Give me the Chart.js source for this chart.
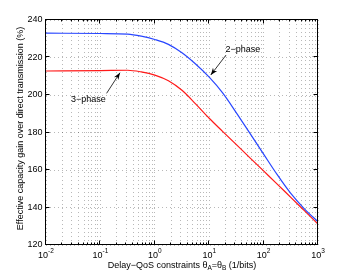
<!DOCTYPE html>
<html>
<head>
<meta charset="utf-8">
<script src="https://cdn.jsdelivr.net/npm/chart.js@4/dist/chart.umd.min.js"></script>
<style>
  html, body { margin: 0; padding: 0; background: #ffffff; }
  #wrap { width: 351px; height: 277px; }
</style>
</head>
<body>
<div id="wrap"><canvas id="grafico" width="351" height="277"></canvas></div>
<script>
// valores (eje x logaritmico)
const theta = [0.01, 0.1, 0.316, 0.562, 1, 1.78, 3.16, 5.62, 10, 17.8, 31.6, 56.2, 100, 178, 316, 562, 1000];
const gain2phase = [233.0, 232.8, 232.5, 231.4, 229.6, 227.0, 222.5, 216.5, 209.5, 201.0, 190.5, 179.5, 168.5, 157.5, 147.5, 139.3, 132.4];
const gain3phase = [212.8, 213.0, 213.2, 212.3, 210.6, 207.6, 202.5, 195.3, 187.6, 180.5, 173.5, 166.5, 159.5, 152.5, 145.4, 138.3, 131.2];

const xDecadas = [0.01, 0.1, 1, 10, 100, 1000];
const xExponentes = ["-2", "-1", "0", "1", "2", "3"];
const xMantisas = [2, 3, 4, 5, 6, 7, 8, 9];
const yTicks = [120, 140, 160, 180, 200, 220, 240];

const anotaciones = [
  { texto: "2\u2212phase", tx: 41.7, ty: 224.0, desdeX: 20.4, desdeY: 221.3, haciaX: 10.7, haciaY: 210.7 },
  { texto: "3\u2212phase", tx: 0.060, ty: 197.7, desdeX: 0.13, desdeY: 200.9, haciaX: 0.229, haciaY: 211.9 }
];

const FUENTE = '"Liberation Sans", Arial, Helvetica, sans-serif';

// todas las lineas de grilla (decadas + menores)
const xGrilla = [];
xDecadas.forEach((d, i) => {
  xGrilla.push(d);
  if (i < xDecadas.length - 1) xMantisas.forEach(m => xGrilla.push(+(d * m).toPrecision(3)));
});

function flecha(ctx, x1, y1, x2, y2) {
  ctx.strokeStyle = "#000";
  ctx.fillStyle = "#000";
  ctx.lineWidth = 0.8;
  ctx.beginPath();
  ctx.moveTo(x1, y1);
  ctx.lineTo(x2, y2);
  ctx.stroke();
  const ang = Math.atan2(y2 - y1, x2 - x1);
  const largo = 7, ancho = 2.6;
  ctx.beginPath();
  ctx.moveTo(x2, y2);
  ctx.lineTo(x2 - largo * Math.cos(ang) + ancho * Math.sin(ang), y2 - largo * Math.sin(ang) - ancho * Math.cos(ang));
  ctx.lineTo(x2 - largo * 0.7 * Math.cos(ang), y2 - largo * 0.7 * Math.sin(ang));
  ctx.lineTo(x2 - largo * Math.cos(ang) - ancho * Math.sin(ang), y2 - largo * Math.sin(ang) + ancho * Math.cos(ang));
  ctx.closePath();
  ctx.fill();
}

const ejesMatlab = {
  id: "ejesMatlab",
  afterDraw(chart) {
    const ctx = chart.ctx;
    const { left, right, top, bottom } = chart.chartArea;
    const sx = chart.scales.x;
    const sy = chart.scales.y;
    const L = Math.round(left) - 0.5, R = Math.round(right) - 0.5;
    const T = Math.round(top) - 0.5, B = Math.round(bottom) - 0.5;

    ctx.save();
    ctx.strokeStyle = "#000";
    ctx.lineWidth = 1;
    ctx.strokeRect(L, T, R - L, B - T);

    // marcas de los ejes hacia adentro
    ctx.beginPath();
    xGrilla.forEach(v => {
      const px = Math.round(sx.getPixelForValue(v)) - 0.5;
      const len = xDecadas.includes(v) ? 4 : 2;
      ctx.moveTo(px, B); ctx.lineTo(px, B - len);
      ctx.moveTo(px, T); ctx.lineTo(px, T + len);
    });
    yTicks.forEach(v => {
      const py = Math.round(sy.getPixelForValue(v)) - 0.5;
      ctx.moveTo(L, py); ctx.lineTo(L + 4, py);
      ctx.moveTo(R, py); ctx.lineTo(R - 4, py);
    });
    ctx.stroke();

    ctx.fillStyle = "#000";
    ctx.font = "9px " + FUENTE;
    ctx.textAlign = "right";
    ctx.textBaseline = "middle";
    yTicks.forEach(v => ctx.fillText(String(v), left - 3.5, sy.getPixelForValue(v)));

    // etiquetas 10^n
    ctx.textBaseline = "alphabetic";
    ctx.textAlign = "left";
    xDecadas.forEach((v, i) => {
      ctx.font = "9px " + FUENTE;
      const wBase = ctx.measureText("10").width;
      ctx.font = "6.5px " + FUENTE;
      const wExp = ctx.measureText(xExponentes[i]).width;
      const x0 = sx.getPixelForValue(v) - (wBase + wExp) / 2;
      ctx.font = "9px " + FUENTE;
      ctx.fillText("10", x0, 257.5);
      ctx.font = "6.5px " + FUENTE;
      ctx.fillText(xExponentes[i], x0 + wBase, 253);
    });

    // titulo eje x con subindices
    const partes = [
      { t: "Delay\u2212QoS constraints \u03b8", sub: false },
      { t: "A", sub: true },
      { t: "=\u03b8", sub: false },
      { t: "B", sub: true },
      { t: " (1/bits)", sub: false }
    ];
    let total = 0;
    partes.forEach(p => {
      ctx.font = (p.sub ? "6.5px " : "9px ") + FUENTE;
      p.w = ctx.measureText(p.t).width;
      total += p.w;
    });
    let cx = (left + right) / 2 - total / 2;
    partes.forEach(p => {
      ctx.font = (p.sub ? "6.5px " : "9px ") + FUENTE;
      ctx.fillText(p.t, cx, p.sub ? 269.5 : 267.5);
      cx += p.w;
    });

    // titulo eje y
    ctx.save();
    ctx.translate(22.5, (top + bottom) / 2 - 4);
    ctx.rotate(-Math.PI / 2);
    ctx.font = "9px " + FUENTE;
    ctx.textAlign = "center";
    ctx.fillText("Effective capacity gain over direct transmission (%)", 0, 0);
    ctx.restore();

    // anotaciones con flecha
    ctx.font = "9px " + FUENTE;
    ctx.textAlign = "center";
    ctx.textBaseline = "middle";
    anotaciones.forEach(a => {
      ctx.fillText(a.texto, sx.getPixelForValue(a.tx), sy.getPixelForValue(a.ty));
      flecha(ctx,
        sx.getPixelForValue(a.desdeX), sy.getPixelForValue(a.desdeY),
        sx.getPixelForValue(a.haciaX), sy.getPixelForValue(a.haciaY));
    });
    ctx.restore();
  }
};

const grillaPunteada = {
  color: "rgba(0,0,0,0.28)",
  lineWidth: 1,
  drawTicks: false
};

new Chart(document.getElementById("grafico"), {
  type: "line",
  data: {
    datasets: [
      {
        label: "2-phase",
        data: theta.map((t, i) => ({ x: t, y: gain2phase[i] })),
        borderColor: "rgb(40,70,255)",
        borderWidth: 1.2,
        pointRadius: 0,
        cubicInterpolationMode: "monotone",
        fill: false
      },
      {
        label: "3-phase",
        data: theta.map((t, i) => ({ x: t, y: gain3phase[i] })),
        borderColor: "rgb(255,25,25)",
        borderWidth: 1.2,
        pointRadius: 0,
        cubicInterpolationMode: "monotone",
        fill: false
      }
    ]
  },
  options: {
    responsive: false,
    animation: false,
    layout: { padding: { left: 46, right: 33, top: 20, bottom: 32 } },
    plugins: { legend: { display: false }, tooltip: { enabled: false } },
    scales: {
      x: {
        type: "logarithmic",
        min: 0.01,
        max: 1000,
        afterBuildTicks: (scale) => { scale.ticks = xGrilla.map(v => ({ value: v })); },
        ticks: { display: false, autoSkip: false },
        grid: grillaPunteada,
        border: { display: false, dash: [1, 3] }
      },
      y: {
        type: "linear",
        min: 120,
        max: 240,
        afterBuildTicks: (scale) => { scale.ticks = yTicks.map(v => ({ value: v })); },
        ticks: { display: false },
        grid: grillaPunteada,
        border: { display: false, dash: [1, 3] }
      }
    }
  },
  plugins: [ejesMatlab]
});
</script>
</body>
</html>
